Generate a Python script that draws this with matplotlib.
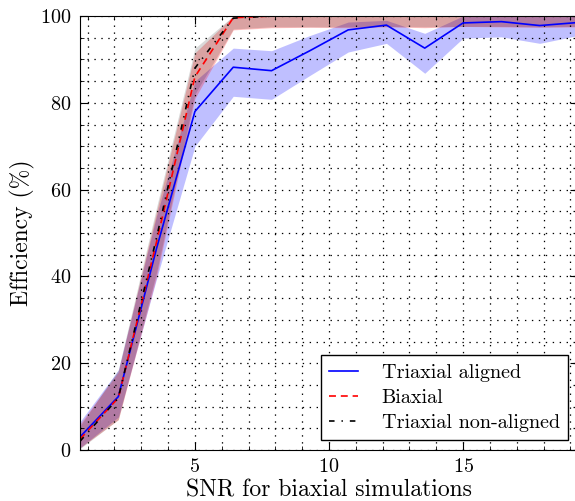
import numpy as np
import matplotlib
matplotlib.use("Agg")
import matplotlib.pyplot as plt
from matplotlib.ticker import MultipleLocator

# computer modern look, unscaled dash patterns like the old defaults
plt.rcParams['font.family'] = 'serif'
plt.rcParams['font.serif'] = ['cmr10']
plt.rcParams['mathtext.fontset'] = 'cm'
plt.rcParams['axes.formatter.use_mathtext'] = True
plt.rcParams['lines.scale_dashes'] = False

# SNR values (x) and efficiencies (%)
snr = [0.714, 2.143, 3.571, 5.0, 6.429, 7.857, 9.286, 10.714,
       12.143, 13.571, 15.0, 16.429, 17.857, 19.286]

tri_aligned = [3.0, 12.3, 46.5, 78.0, 88.2, 87.4, 92.0, 96.8,
               97.9, 92.6, 98.4, 98.7, 97.8, 98.5]
tri_aligned_lo = [0.5, 7.6, 39.5, 70.0, 81.5, 80.8, 86.3, 91.7,
                  93.7, 86.8, 94.9, 95.2, 93.7, 95.5]
tri_aligned_hi = [6.5, 18.4, 54.0, 85.0, 92.6, 92.0, 95.5, 98.6,
                  99.0, 96.0, 100, 100, 100, 100]

biaxial = [2.5, 12.0, 48.0, 86.0, 99.6, 100, 100, 100,
           100, 100, 100, 100, 100, 100]
biaxial_lo = [0.5, 7.0, 40.0, 81.0, 96.8, 97.3, 97.4, 97.3,
              97.5, 97.3, 97.6, 97.5, 97.4, 97.5]
biaxial_hi = [6.0, 18.0, 55.0, 91.5, 100, 100, 100, 100,
              100, 100, 100, 100, 100, 100]

tri_nonaligned = [2.0, 12.0, 49.0, 88.0, 99.5, 100, 100, 100,
                  100, 100, 100, 100, 100, 100]
tri_nonaligned_lo = [0.3, 7.0, 41.0, 82.0, 97.0, 97.5, 97.5, 97.5,
                     97.6, 97.5, 97.6, 97.6, 97.5, 97.6]
tri_nonaligned_hi = [5.5, 18.5, 56.0, 92.6, 100, 100, 100, 100,
                     100, 100, 100, 100, 100, 100]

fig = plt.figure(figsize=(5.75, 5.01), dpi=100)
ax = fig.add_axes([80/575, 51/501, 498/575, 434/501])

ax.fill_between(snr, tri_aligned_lo, tri_aligned_hi, color='b', alpha=0.25, lw=0)
ax.fill_between(snr, biaxial_lo, biaxial_hi, color='r', alpha=0.25, lw=0)
ax.fill_between(snr, tri_nonaligned_lo, tri_nonaligned_hi, color='k', alpha=0.15, lw=0)

ax.plot(snr, tri_aligned, color='b', ls='-', lw=1.2, label='Triaxial aligned')
ax.plot(snr, biaxial, color='r', ls=(0, (5, 3.5)), lw=1.2, label='Biaxial')
ax.plot(snr, tri_nonaligned, color='k', ls=(0, (4, 5, 1, 5)), lw=1.2,
        label='Triaxial non-aligned')

ax.set_xlim(snr[0], snr[-1])
ax.set_ylim(0, 100)
ax.xaxis.set_major_locator(MultipleLocator(5))
ax.xaxis.set_minor_locator(MultipleLocator(1))
ax.yaxis.set_major_locator(MultipleLocator(20))
ax.yaxis.set_minor_locator(MultipleLocator(5))
ax.tick_params(which='both', direction='in', top=True, right=True, labelsize=14.5)
ax.tick_params(which='major', length=6, pad=6)
ax.tick_params(which='minor', length=3)
ax.grid(True, which='both', color='k', linestyle=(0, (1, 4)), linewidth=0.9)

ax.set_xlabel('SNR for biaxial simulations', fontsize=17, labelpad=2)
ax.set_ylabel('Efficiency (%)', fontsize=17, labelpad=4)

leg = ax.legend(loc='lower right', fontsize=14.5, fancybox=False, framealpha=1,
                edgecolor='k', handlelength=1.4, handletextpad=1.2,
                labelspacing=0.35)
leg.get_frame().set_linewidth(1.0)

fig.savefig('out.png', dpi=100)
